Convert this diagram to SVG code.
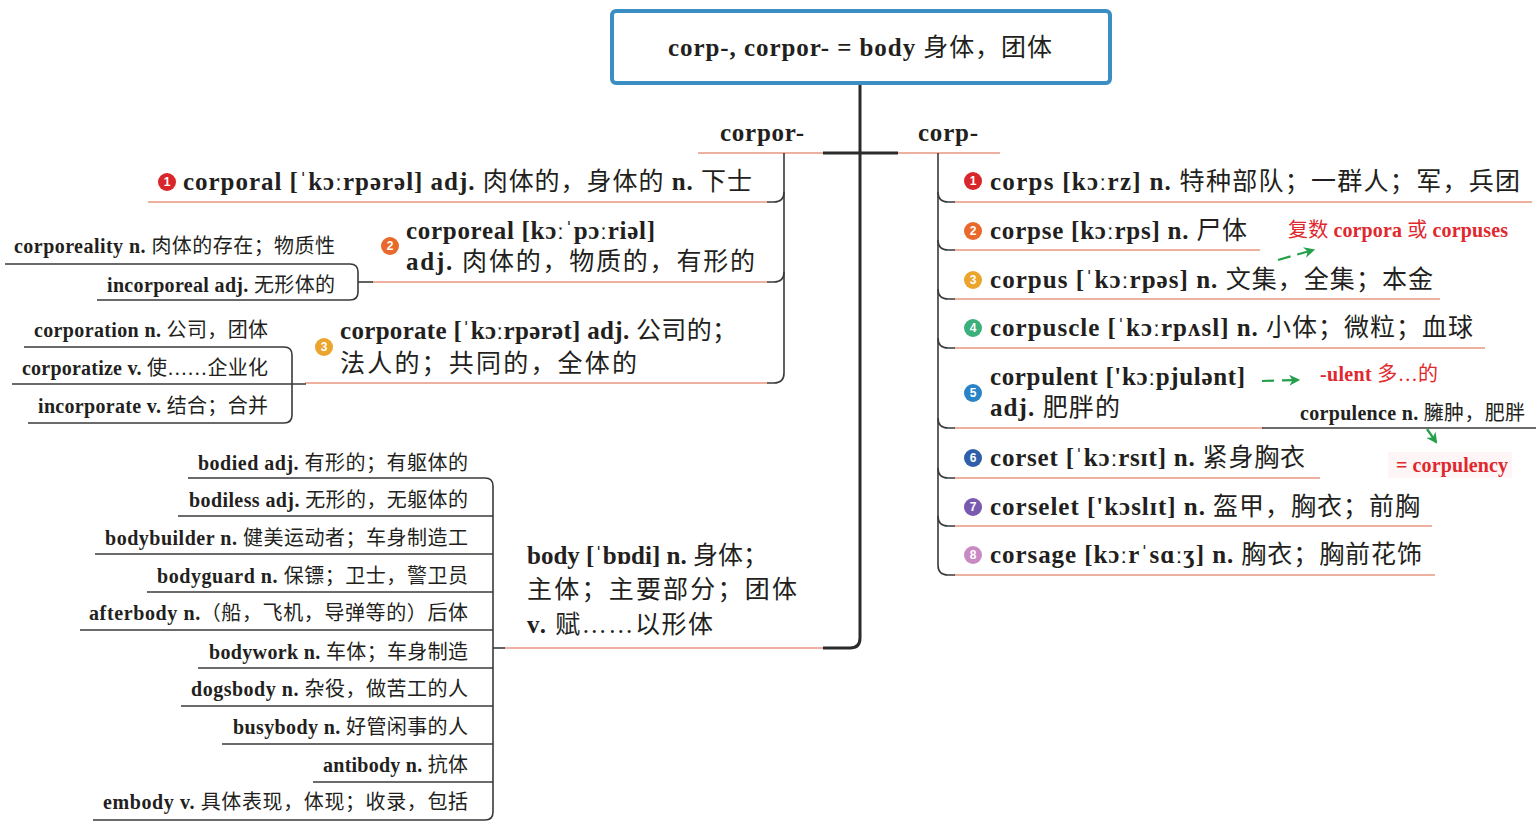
<svg xmlns="http://www.w3.org/2000/svg" width="1536" height="831" viewBox="0 0 1536 831">
<style>
.t{font-family:"Liberation Serif","Noto Sans CJK SC",serif;fill:#231f20}
.b{font-weight:bold}
.m{font-size:25px}
.s{font-size:20px}
.r{font-family:"Liberation Serif","Noto Sans CJK SC",serif;fill:#e0282e;font-size:20px}
.e{text-anchor:end}
.pk{fill:none;stroke:#eeb1a0;stroke-width:2}
.dk{fill:none;stroke:#3a3a3a;stroke-width:1.6}
.tr{fill:none;stroke:#2b2b2b;stroke-width:3}
.g{fill:none;stroke:#23a04a;stroke-width:2.2}
.n{font-family:"Liberation Sans",sans-serif;font-size:12px;font-weight:bold;fill:#fff;text-anchor:middle}
</style>
<defs>
<marker id="ah" viewBox="0 0 10 10" refX="8" refY="5" markerWidth="5" markerHeight="5" orient="auto"><path d="M0,0 L10,5 L0,10 L3,5 z" fill="#23a04a"/></marker>
</defs>
<rect width="1536" height="831" fill="#fff"/>

<g id="connectors">
<path class="tr" d="M860,83 V638 Q860,648 850,648 H823"/>
<path class="tr" d="M823,153 H898"/>
<path class="pk" d="M698,153 H823"/>
<path class="pk" d="M898,153 H1000"/>
<path class="dk" d="M784,153 V373 Q784,383 774,383 H766"/>
<path class="dk" d="M784,192 Q784,202 774,202 H766"/>
<path class="dk" d="M784,272 Q784,282 774,282 H766"/>
<path class="pk" d="M148,202 H767"/>
<path class="pk" d="M372,282 H767"/>
<path class="pk" d="M305,383 H767"/>
<path class="dk" d="M358,282 H373"/>
<path class="dk" d="M5,264 H350 Q358,264 358,272 V292 Q358,300 350,300 H97"/>
<path class="dk" d="M24,347 H284 Q292,347 292,355 V415 Q292,423 284,423 H28"/>
<path class="dk" d="M12,384 H306"/>
<path class="dk" d="M188,478 H485 Q493,478 493,486 V812 Q493,820 485,820 H93"/>
<path class="dk" d="M178,516 H493"/>
<path class="dk" d="M95,554 H493"/>
<path class="dk" d="M147,592 H493"/>
<path class="dk" d="M80,630 H493"/>
<path class="dk" d="M198,668 H493"/>
<path class="dk" d="M181,706 H493"/>
<path class="dk" d="M222,744 H493"/>
<path class="dk" d="M313,782 H493"/>
<path class="dk" d="M493,648 H506"/>
<path class="pk" d="M505,648 H823"/>
<path class="dk" d="M938,153 V565 Q938,575 948,575 H956"/>
<path class="dk" d="M938,192 Q938,202 948,202 H956"/>
<path class="dk" d="M938,240 Q938,250 948,250 H956"/>
<path class="dk" d="M938,289 Q938,299 948,299 H956"/>
<path class="dk" d="M938,338 Q938,348 948,348 H956"/>
<path class="dk" d="M938,418 Q938,428 948,428 H956"/>
<path class="dk" d="M938,468 Q938,478 948,478 H956"/>
<path class="dk" d="M938,516 Q938,526 948,526 H956"/>
<path class="pk" d="M955,202 H1532"/>
<path class="pk" d="M955,250 H1260"/>
<path class="pk" d="M955,299 H1440"/>
<path class="pk" d="M955,348 H1485"/>
<path class="pk" d="M955,428 H1263"/>
<path class="pk" d="M955,478 H1320"/>
<path class="pk" d="M955,526 H1432"/>
<path class="pk" d="M955,575 H1435"/>
<path class="dk" d="M1262,428 H1536"/>
<path class="g" d="M1278,260 L1313,250" stroke-dasharray="13,7" marker-end="url(#ah)"/>
<path class="g" d="M1262,381 L1298,380" stroke-dasharray="12,8" marker-end="url(#ah)"/>
<path class="g" d="M1427,429 L1436,442" marker-end="url(#ah)"/>
</g>

<g id="root">
<rect x="612" y="11" width="498" height="72" rx="4" fill="#fff" stroke="#3a8ec3" stroke-width="4"/>
<text class="t" x="860" y="56" font-size="25" text-anchor="middle" textLength="384" lengthAdjust="spacing"><tspan class="b">corp-, corpor- = body</tspan> 身体，团体</text>
</g>

<g id="corpor"><text class="t m b" x="720" y="141" textLength="84" lengthAdjust="spacing">corpor-</text></g>
<g id="corp"><text class="t m b" x="918" y="141" textLength="60" lengthAdjust="spacing">corp-</text></g>

<g id="corporal">
<circle cx="167" cy="182" r="9" fill="#d9262a"/><text class="n" x="167" y="186">1</text>
<text class="t m" x="183" y="190" textLength="569" lengthAdjust="spacing"><tspan class="b">corporal [ˈkɔːrpərəl] adj.</tspan> 肉体的，身体的 <tspan class="b">n.</tspan> 下士</text>
</g>
<g id="corporeal">
<circle cx="390" cy="246" r="9" fill="#e8692a"/><text class="n" x="390" y="250">2</text>
<text class="t m" x="406" y="239" textLength="249" lengthAdjust="spacing"><tspan class="b">corporeal [kɔːˈpɔːriəl]</tspan></text>
<text class="t m" x="406" y="270" textLength="349" lengthAdjust="spacing"><tspan class="b">adj.</tspan> 肉体的，物质的，有形的</text>
</g>
<g id="corporeality"><text class="t s e" x="335" y="253" textLength="321" lengthAdjust="spacing"><tspan class="b">corporeality n.</tspan> 肉体的存在；物质性</text></g>
<g id="incorporeal"><text class="t s e" x="335" y="292" textLength="228" lengthAdjust="spacing"><tspan class="b">incorporeal adj.</tspan> 无形体的</text></g>
<g id="corporate">
<circle cx="324" cy="347" r="9" fill="#eba42c"/><text class="n" x="324" y="351">3</text>
<text class="t m" x="340" y="339" textLength="397" lengthAdjust="spacing"><tspan class="b">corporate [ˈkɔːrpərət] adj.</tspan> 公司的；</text>
<text class="t m" x="340" y="372" textLength="297" lengthAdjust="spacing">法人的；共同的，全体的</text>
</g>
<g id="corporation"><text class="t s e" x="268" y="337" textLength="234" lengthAdjust="spacing"><tspan class="b">corporation n.</tspan> 公司，团体</text></g>
<g id="corporatize"><text class="t s e" x="268" y="375" textLength="246" lengthAdjust="spacing"><tspan class="b">corporatize v.</tspan> 使……企业化</text></g>
<g id="incorporate"><text class="t s e" x="268" y="413" textLength="230" lengthAdjust="spacing"><tspan class="b">incorporate v.</tspan> 结合；合并</text></g>

<g id="body">
<text class="t m" x="527" y="564" textLength="241" lengthAdjust="spacing"><tspan class="b">body [ˈbɒdi] n.</tspan> 身体；</text>
<text class="t m" x="527" y="598" textLength="270" lengthAdjust="spacing">主体；主要部分；团体</text>
<text class="t m" x="527" y="633" textLength="186" lengthAdjust="spacing"><tspan class="b">v.</tspan> 赋……以形体</text>
</g>
<g id="bodied"><text class="t s e" x="468" y="470" textLength="270" lengthAdjust="spacing"><tspan class="b">bodied adj.</tspan> 有形的；有躯体的</text></g>
<g id="bodiless"><text class="t s e" x="468" y="507" textLength="279" lengthAdjust="spacing"><tspan class="b">bodiless adj.</tspan> 无形的，无躯体的</text></g>
<g id="bodybuilder"><text class="t s e" x="468" y="545" textLength="363" lengthAdjust="spacing"><tspan class="b">bodybuilder n.</tspan> 健美运动者；车身制造工</text></g>
<g id="bodyguard"><text class="t s e" x="468" y="583" textLength="311" lengthAdjust="spacing"><tspan class="b">bodyguard n.</tspan> 保镖；卫士，警卫员</text></g>
<g id="afterbody"><text class="t s e" x="468" y="620" textLength="379" lengthAdjust="spacing"><tspan class="b">afterbody n.</tspan>（船，飞机，导弹等的）后体</text></g>
<g id="bodywork"><text class="t s e" x="468" y="659" textLength="259" lengthAdjust="spacing"><tspan class="b">bodywork n.</tspan> 车体；车身制造</text></g>
<g id="dogsbody"><text class="t s e" x="468" y="696" textLength="277" lengthAdjust="spacing"><tspan class="b">dogsbody n.</tspan> 杂役，做苦工的人</text></g>
<g id="busybody"><text class="t s e" x="468" y="734" textLength="235" lengthAdjust="spacing"><tspan class="b">busybody n.</tspan> 好管闲事的人</text></g>
<g id="antibody"><text class="t s e" x="468" y="772" textLength="145" lengthAdjust="spacing"><tspan class="b">antibody n.</tspan> 抗体</text></g>
<g id="embody"><text class="t s e" x="468" y="809" textLength="365" lengthAdjust="spacing"><tspan class="b">embody v.</tspan> 具体表现，体现；收录，包括</text></g>

<g id="corps">
<circle cx="973" cy="181" r="9" fill="#d9262a"/><text class="n" x="973" y="185">1</text>
<text class="t m" x="990" y="190" textLength="530" lengthAdjust="spacing"><tspan class="b">corps [kɔːrz] n.</tspan> 特种部队；一群人；军，兵团</text>
</g>
<g id="corpse">
<circle cx="973" cy="231" r="9" fill="#e8692a"/><text class="n" x="973" y="235">2</text>
<text class="t m" x="990" y="239" textLength="257" lengthAdjust="spacing"><tspan class="b">corpse [kɔːrps] n.</tspan> 尸体</text>
</g>
<g id="corpse-note"><text class="r" x="1288" y="237" textLength="220" lengthAdjust="spacing">复数 <tspan class="b">corpora</tspan> 或 <tspan class="b">corpuses</tspan></text></g>
<g id="corpus">
<circle cx="973" cy="280" r="9" fill="#eba42c"/><text class="n" x="973" y="284">3</text>
<text class="t m" x="990" y="288" textLength="443" lengthAdjust="spacing"><tspan class="b">corpus [ˈkɔːrpəs] n.</tspan> 文集，全集；本金</text>
</g>
<g id="corpuscle">
<circle cx="973" cy="328" r="9" fill="#3bb07a"/><text class="n" x="973" y="332">4</text>
<text class="t m" x="990" y="336" textLength="483" lengthAdjust="spacing"><tspan class="b">corpuscle [ˈkɔːrpʌsl] n.</tspan> 小体；微粒；血球</text>
</g>
<g id="corpulent">
<circle cx="973" cy="393" r="9" fill="#2a83c6"/><text class="n" x="973" y="397">5</text>
<text class="t m" x="990" y="385" textLength="255" lengthAdjust="spacing"><tspan class="b">corpulent ['kɔːpjulənt]</tspan></text>
<text class="t m" x="990" y="416" textLength="130" lengthAdjust="spacing"><tspan class="b">adj.</tspan> 肥胖的</text>
</g>
<g id="ulent-note"><text class="r" x="1320" y="381" textLength="118" lengthAdjust="spacing"><tspan class="b">-ulent</tspan> 多…的</text></g>
<g id="corpulence"><text class="t s" x="1300" y="420" textLength="225" lengthAdjust="spacing"><tspan class="b">corpulence n.</tspan> 臃肿，肥胖</text></g>
<g id="corpulency-note">
<rect x="1388" y="452" width="124" height="26" fill="#fef6f6"/>
<text class="r b" x="1396" y="472" textLength="112" lengthAdjust="spacing">= corpulency</text>
</g>
<g id="corset">
<circle cx="973" cy="458" r="9" fill="#2f5fa8"/><text class="n" x="973" y="462">6</text>
<text class="t m" x="990" y="466" textLength="315" lengthAdjust="spacing"><tspan class="b">corset [ˈkɔːrsɪt] n.</tspan> 紧身胸衣</text>
</g>
<g id="corselet">
<circle cx="973" cy="507" r="9" fill="#7a5ab0"/><text class="n" x="973" y="511">7</text>
<text class="t m" x="990" y="515" textLength="430" lengthAdjust="spacing"><tspan class="b">corselet ['kɔslɪt] n.</tspan> 盔甲，胸衣；前胸</text>
</g>
<g id="corsage">
<circle cx="973" cy="555" r="9" fill="#c98ac4"/><text class="n" x="973" y="559">8</text>
<text class="t m" x="990" y="563" textLength="432" lengthAdjust="spacing"><tspan class="b">corsage [kɔːrˈsɑːʒ] n.</tspan> 胸衣；胸前花饰</text>
</g>
</svg>
